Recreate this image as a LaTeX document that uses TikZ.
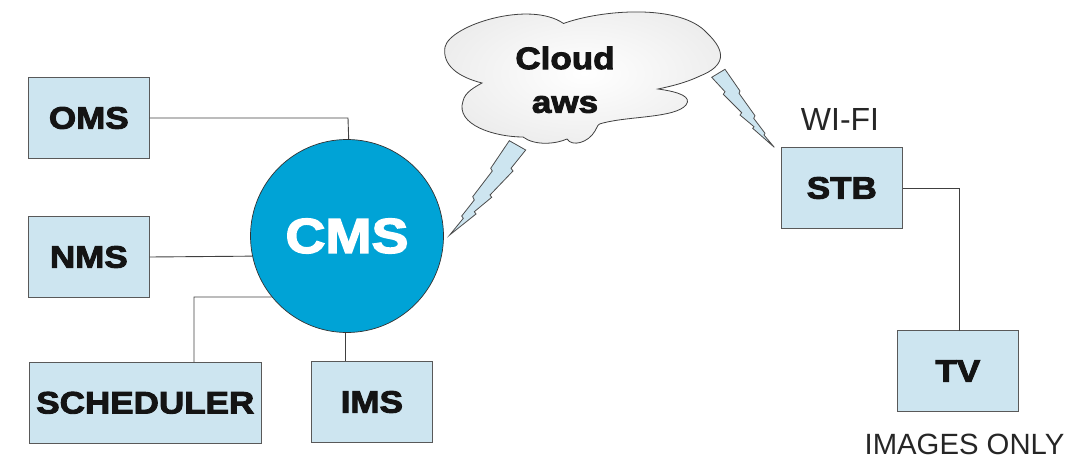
\documentclass[tikz,border=0pt]{standalone}
\usepackage{fontspec}
\setmainfont{Liberation Sans}
\newfontfamily\heavy[FakeBold=3,FakeStretch=1.13]{Liberation Sans Bold}
\begin{document}
\begin{tikzpicture}[x=1pt,y=-1pt,
 boxnode/.style={draw=black!65,line width=1pt,fill=boxblue,minimum width=#1,minimum height=80.5pt,inner sep=0pt,font=\heavy\fontsize{31}{31}\selectfont,text=black!92},
 boxnode/.default=120.5pt,
 wire/.style={draw=black!75,line width=0.9pt},
 bolt/.style={draw=black!70,line width=0.8pt,fill=boxblue,line join=miter},
 plain/.style={font=\fontsize{32}{32}\selectfont,text=black!85,inner sep=0pt}]
\definecolor{boxblue}{HTML}{CDE5F0}
\definecolor{cmsblue}{HTML}{00A3D6}
\useasboundingbox (0,0) rectangle (1090,458);
\node[boxnode] (oms) at (88.8,118) {OMS};
\node[boxnode] (nms) at (88.8,257) {NMS};
\node[boxnode=231.5pt] (sch) at (145.3,402.8) {SCHEDULER};
\node[boxnode] (ims) at (371.8,402) {IMS};
\node[boxnode] (stb) at (841.8,188) {STB};
\node[boxnode] (tv) at (957.8,371) {TV};
\node[circle,draw=black!80,line width=0.7pt,fill=cmsblue,minimum size=193pt,inner sep=0pt,text=white,font=\heavy\fontsize{49}{49}\selectfont] (cms) at (347,236) {CMS};
\coordinate (c1) at (348,118);
\coordinate (c2) at (194,297);
\coordinate (s1) at (194,362);
\coordinate (t1) at (959,188);
\coordinate (t2) at (959,330.7);
\draw[wire] (oms.east) -- (c1) -- (cms.89.4);
\draw[wire] (nms.east) -- (cms.192.6);
\draw[wire] (s1) -- (c2) -- (cms.219.2);
\draw[wire] (cms.269.4) -- (cms.269.4 |- ims.north);
\draw[wire] (stb.east) -- (t1) -- (t2);
\draw[draw=black!75,line width=0.8pt,shade,inner color=white,outer color=black!7]
 (563.5,23.5) .. controls (600,10) and (680,3) .. (707,33)
 .. controls (727,52) and (725,66) .. (700,76)
 .. controls (685,83) and (672,86) .. (658,89)
 .. controls (680,92) and (692,97) .. (686,105)
 .. controls (675,118) and (630,116) .. (603,123)
 .. controls (597,124) and (598,126) .. (595,131)
 .. controls (588,143) and (572,147) .. (567,139)
 .. controls (556,144) and (535,146) .. (523,137)
 .. controls (495,137) and (455,125) .. (463,101)
 .. controls (465,92) and (475,87) .. (482,83)
 .. controls (458,77) and (442,65) .. (445,47)
 .. controls (450,25) and (530,0) .. (563.5,23.5) -- cycle;
\node[font=\heavy\fontsize{31}{31}\selectfont,text=black!92,inner sep=0pt] (cl) at (565,58) {Cloud};
\node[font=\heavy\fontsize{31}{31}\selectfont,text=black!92,inner sep=0pt] (aw) at (565,104.5) {aws};
\draw[bolt] (509.3,140.7) -- (490.7,168.3) -- (492.3,171) -- (472.7,196.7) -- (474.3,200) -- (461.7,216) -- (463.3,218.3) -- (449.7,235) -- (476,214) -- (474.3,211.7) -- (491.7,197.3) -- (490,195) -- (513,171) -- (511,168.3) -- (525.7,150) -- cycle;
\draw[bolt] (711.7,77.3) -- (725,69.3) -- (740,91) -- (739,93.3) -- (755,115.7) -- (753.7,118.3) -- (765,133.3) -- (764,135) -- (774.3,147.3) -- (752.7,128.3) -- (754,126.7) -- (740,115) -- (741.7,112.7) -- (723.3,94.3) -- (725,91.7) -- cycle;
\node[plain] (wifi) at (840,119) {WI-FI};
\node[plain,font=\fontsize{29.3}{29.3}\selectfont] (img) at (964.5,444) {IMAGES ONLY};
\end{tikzpicture}
\end{document}
